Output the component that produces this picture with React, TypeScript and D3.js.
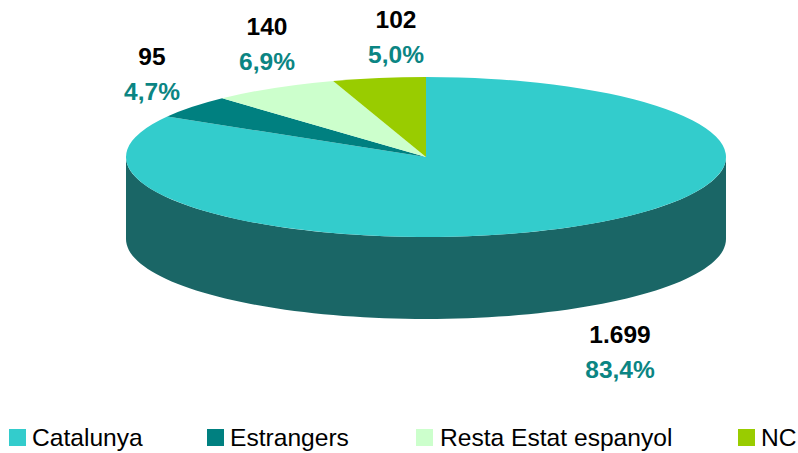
import React from "react";
import * as d3 from "d3";

const categories = ["Catalunya", "Estrangers", "Resta Estat espanyol", "NC"];
const counts = [1699, 95, 140, 102];
const countLabels = ["1.699", "95", "140", "102"];
const percentLabels = ["83,4%", "4,7%", "6,9%", "5,0%"];
const colors = ["#33CCCC", "#008080", "#CCFFCC", "#99CC00"];
const sideColor = "#1A6666";
const teal = "#0B8583";
const labelPos: [number, number][] = [[620, 335], [152, 57], [267, 27], [396, 20]];
const legendX = [9, 207, 416, 738];
const legendTextX = [32, 230, 440, 761];

const W = 798, H = 453, cx = 426, cy = 157, rx = 300, ry = 80, depth = 82;

export default function App() {
  const pie = d3.pie<number>().sort(null).startAngle(0).endAngle(2 * Math.PI);
  const arcs = pie(counts);
  const arc = d3.arc<d3.PieArcDatum<number>>().innerRadius(0).outerRadius(rx);
  const k = ry / rx;
  const side = d3.path();
  const steps = d3.range(0, 181, 2).map((d) => ((90 + d) * Math.PI) / 180);
  steps.forEach((t, i) => {
    const x = cx + rx * Math.sin(t), y = cy - ry * Math.cos(t);
    if (i === 0) side.moveTo(x, y); else side.lineTo(x, y);
  });
  [...steps].reverse().forEach((t) => {
    side.lineTo(cx + rx * Math.sin(t), cy - ry * Math.cos(t) + depth);
  });
  side.closePath();
  const font = "'Liberation Sans', Arial, sans-serif";
  return (
    <svg width={W} height={H} style={{ position: "absolute", left: 0, top: 0, background: "#fff" }}>
      <path d={side.toString()} fill={sideColor} />
      <g transform={`translate(${cx},${cy}) scale(1,${k})`}>
        {arcs.map((a, i) => (
          <path key={i} d={arc(a) ?? ""} fill={colors[i]} />
        ))}
      </g>
      {categories.map((_, i) => (
        <g key={i} fontFamily={font} fontWeight="bold" fontSize={24.5} textAnchor="middle">
          <text x={labelPos[i][0]} y={labelPos[i][1] + 8} fill="#000">{countLabels[i]}</text>
          <text x={labelPos[i][0]} y={labelPos[i][1] + 43} fill={teal}>{percentLabels[i]}</text>
        </g>
      ))}
      {categories.map((c, i) => (
        <g key={c}>
          <rect x={legendX[i]} y={429} width={17} height={17} fill={colors[i]} />
          <text x={legendTextX[i]} y={446} fontFamily={font} fontSize={24.6} fill="#000">{c}</text>
        </g>
      ))}
    </svg>
  );
}
